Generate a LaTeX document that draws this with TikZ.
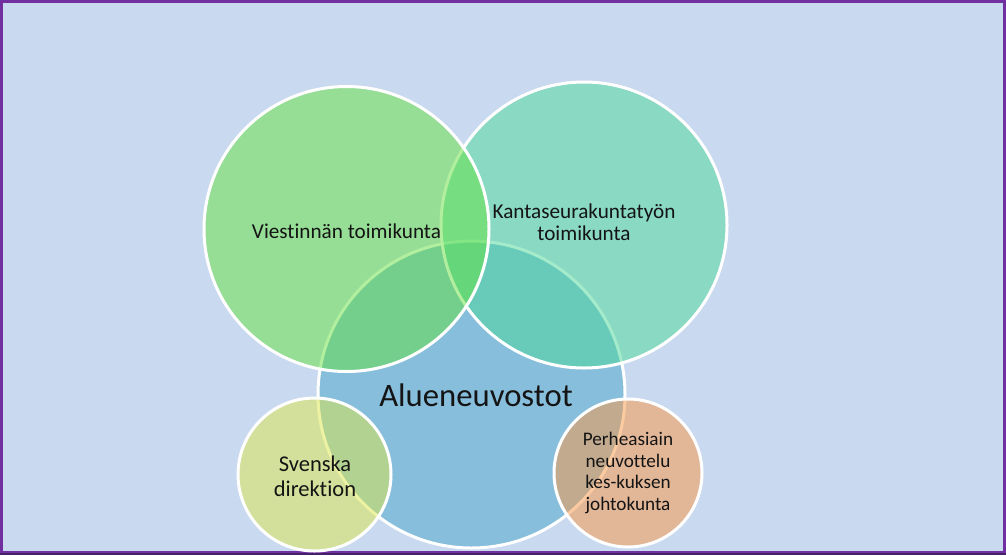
\documentclass[tikz,border=0pt]{standalone}
\usepackage{fontspec}
\setmainfont{Carlito}[Ligatures=NoCommon]
\definecolor{bgblue}{RGB}{201,217,240}
\definecolor{framepurple}{RGB}{112,48,160}
\definecolor{darkpurple}{RGB}{70,32,105}
\definecolor{cgreen}{RGB}{101,225,62}
\definecolor{cteal}{RGB}{75,217,152}
\definecolor{cblue}{RGB}{71,165,202}
\definecolor{cyellow}{RGB}{221,231,72}
\definecolor{cpeach}{RGB}{251,151,66}
\definecolor{txt}{RGB}{20,20,20}
\tikzset{
  venn/.style={draw=white, line width=3pt, fill opacity=0.5, draw opacity=1},
  lbl/.style={text=txt, align=center, inner sep=0pt}
}
\begin{document}
\begin{tikzpicture}[x=1pt,y=-1pt]
\useasboundingbox (0,0) rectangle (1006,555);
\fill[framepurple] (0,0) rectangle (1006,555);
\fill[bgblue] (3,3) rectangle (1002.5,551);
\fill[darkpurple] (0,553) rectangle (1006,555);
% circles
\path[venn, fill=cblue] (471.5,394.5) circle[radius=153.5];
\path[venn, fill=cteal] (584,225) circle[radius=143];
\path[venn, fill=cgreen] (346.5,229) circle[radius=142.5];
\path[venn, fill=cyellow] (314.5,474.5) circle[radius=76.5];
\path[venn, fill=cpeach] (628,473) circle[radius=74];
% labels
\node[lbl, font=\fontsize{21.2}{25}\selectfont] (viest) at (346.5,231) {Viestinnän toimikunta};
\node[lbl, font=\fontsize{21.2}{21.7}\selectfont] (kanta) at (584,222) {Kantaseurakuntatyön\\toimikunta};
\node[lbl, font=\fontsize{32.7}{38}\selectfont] (alue) at (476,395) {Alueneuvostot};
\node[lbl, font=\fontsize{22.5}{25}\selectfont] (sven) at (315,476) {Svenska\\direktion};
\node[lbl, font=\fontsize{19.2}{21.7}\selectfont] (perhe) at (628,473) {Perheasiain\\neuvottelu\\kes-kuksen\\johtokunta};
\end{tikzpicture}
\end{document}
